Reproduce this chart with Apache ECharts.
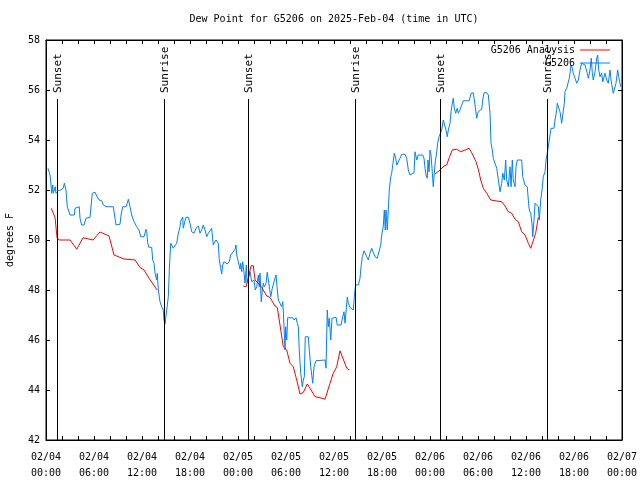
<!DOCTYPE html>
<html><head><meta charset="utf-8">
<script src="https://cdn.jsdelivr.net/npm/echarts@6/dist/echarts.min.js"></script>
<style>html,body{margin:0;padding:0;background:#fff}#c{width:640px;height:480px}</style>
</head><body><div id="c"></div>
<script>
// Hours since 2025-02-04 00:00 UTC
const obsTimes = [0.25,0.41,0.5,0.63,0.71,0.84,0.91,1.09,1.16,1.25,1.41,1.54,1.84,2.16,2.29,2.46,2.5,2.66,2.91,3.0,
3.54,3.63,3.84,4.16,4.25,4.46,4.75,5.0,5.5,5.71,5.79,6.13,6.34,6.63,6.96,7.16,7.5,8.41,8.63,8.75,
9.25,9.38,9.59,10.0,10.16,10.29,10.5,10.71,11.0,11.34,11.63,11.84,12.25,12.5,12.59,12.71,12.84,13.21,13.34,13.5,
13.63,13.84,13.91,14.04,14.25,14.46,14.66,14.75,14.88,15.09,15.29,15.44,15.59,15.84,15.91,16.13,16.34,16.54,16.75,16.88,
17.09,17.16,17.34,17.5,17.79,18.0,18.21,18.5,18.75,19.04,19.25,19.46,19.66,19.88,20.09,20.29,20.5,20.71,20.91,21.25,
21.54,21.66,21.84,21.96,22.09,22.25,22.66,22.91,23.09,23.34,23.63,23.75,23.84,24.04,24.25,24.34,24.46,24.59,24.75,24.88,
25.04,25.13,25.29,25.5,25.71,26.0,26.16,26.34,26.54,26.66,26.75,26.91,27.04,27.16,27.29,27.5,27.66,27.91,28.09,28.29,
28.5,28.75,28.88,29.04,29.25,29.46,29.59,29.66,29.88,29.96,30.09,30.21,30.84,31.0,31.25,31.41,31.54,31.66,31.84,32.04,
32.16,32.29,32.41,32.79,32.91,33.09,33.34,33.5,33.75,34.88,35.0,35.16,35.29,35.41,35.59,35.75,36.25,36.41,36.88,37.09,
37.25,37.38,37.59,37.66,37.79,38.0,38.41,38.59,38.71,39.04,39.25,39.38,39.54,39.75,39.88,40.09,40.29,40.5,40.71,40.91,
41.13,41.41,41.66,41.84,42.0,42.16,42.29,42.41,42.5,42.66,42.79,42.91,43.09,43.21,43.41,43.54,43.71,43.84,44.04,44.25,
44.46,44.88,45.09,45.29,45.5,45.71,46.0,46.13,46.34,46.54,46.75,47.09,47.25,47.38,47.5,47.66,47.75,47.88,48.0,48.13,
48.25,48.41,48.54,48.66,48.84,48.96,49.13,49.25,49.46,49.66,49.88,50.0,50.16,50.29,50.5,50.63,50.79,50.91,51.04,51.21,
51.41,51.54,51.75,51.96,52.16,52.91,53.13,53.41,53.63,53.84,53.96,54.16,54.46,54.59,54.75,55.09,55.29,55.5,55.63,55.79,
55.91,56.13,56.34,56.54,56.75,56.96,57.09,57.29,57.46,57.59,57.79,58.0,58.13,58.29,58.41,58.63,58.75,58.91,59.46,59.59,
59.88,60.16,60.29,60.41,60.59,60.75,60.84,61.0,61.13,61.34,61.54,61.66,61.84,62.0,62.16,62.38,62.5,62.66,62.79,62.91,
63.0,63.13,63.5,63.63,63.84,63.91,64.09,64.25,64.46,64.66,64.79,64.88,65.09,65.29,65.41,65.5,65.63,65.79,65.91,66.13,
66.34,66.54,66.75,66.96,67.38,67.66,67.79,68.0,68.16,68.29,68.41,68.63,68.84,68.96,69.09,69.25,69.46,69.59,69.88,70.09,
70.29,70.5,70.66,70.91,71.13,71.25,71.46,71.59,71.75,71.84];
const obsDew = [52.87,52.8,52.6,52.2,51.87,52.2,51.87,51.93,52.13,51.87,51.87,51.97,52.0,52.07,52.27,52.31,52.0,51.33,51.33,51.0,
51.0,51.27,51.33,51.33,50.87,50.6,50.6,50.87,50.91,50.91,51.87,51.91,51.76,51.6,51.57,51.4,51.33,51.33,50.87,50.6,
50.63,51.0,51.33,51.33,51.47,51.63,51.33,51.0,50.73,50.53,50.4,50.13,50.13,50.43,50.33,49.89,49.71,49.71,49.2,49.07,
48.67,48.4,48.67,48.0,47.53,47.33,47.2,46.8,46.64,46.64,47.73,49.0,49.87,49.87,49.67,49.7,49.87,50.27,50.53,50.8,
50.91,50.47,50.73,50.91,50.91,50.67,50.33,50.27,50.47,50.56,50.27,50.4,50.6,50.4,50.13,50.27,50.33,50.47,49.8,50.0,
49.87,49.2,48.87,48.64,49.0,49.13,49.04,49.13,49.4,49.47,49.63,49.8,49.4,49.13,48.83,49.07,48.73,49.13,48.67,48.27,
49.0,48.3,48.33,48.73,48.33,48.4,48.0,48.13,48.6,48.13,48.67,47.53,48.0,48.27,48.13,48.27,48.71,48.71,47.73,48.07,
48.33,48.6,48.13,47.6,47.47,47.33,47.53,47.2,45.6,46.53,46.0,46.89,46.89,46.8,46.89,46.67,46.53,45.6,44.67,44.13,
44.4,44.53,46.13,46.13,45.6,44.93,44.27,44.93,45.17,45.2,44.87,47.2,46.53,46.87,46.0,46.87,46.91,46.6,46.6,46.93,
47.13,46.67,46.73,47.71,47.47,47.3,47.2,47.93,48.2,48.2,48.47,48.93,49.33,49.57,49.53,49.33,49.2,49.47,49.67,49.6,
49.33,49.27,49.27,49.8,50.27,50.56,51.2,50.4,51.2,50.4,51.2,52.0,52.53,52.67,52.73,53.47,53.27,53.0,53.0,53.27,
53.43,53.43,53.27,52.8,52.6,52.67,52.69,53.53,53.2,53.4,53.47,53.4,53.27,52.87,52.6,52.47,53.2,52.73,53.6,53.4,
52.87,52.13,52.67,53.13,53.53,53.87,54.13,54.2,54.4,54.8,54.77,54.4,54.13,54.4,54.67,55.13,55.47,55.67,55.27,55.07,
55.27,55.07,55.2,55.4,55.57,55.57,55.87,55.89,55.4,54.87,55.07,55.17,55.23,55.6,55.89,55.89,55.8,55.07,53.87,53.6,
53.27,53.33,52.87,52.8,51.93,52.27,52.67,52.4,53.2,52.4,52.13,52.93,52.13,53.2,52.4,52.13,52.93,53.2,53.2,52.53,
52.2,52.13,51.6,51.2,51.07,50.67,50.13,50.8,51.47,51.47,51.33,50.8,51.6,52.0,52.53,52.73,53.2,53.47,53.73,54.0,
54.2,54.47,54.47,54.8,55.2,55.47,55.47,55.13,54.67,54.73,55.47,55.93,56.07,56.07,56.47,56.67,57.0,56.87,56.67,56.47,
56.27,56.4,56.8,57.07,57.0,56.67,56.47,56.8,57.27,56.67,56.4,56.73,57.27,57.4,56.8,56.53,56.67,56.33,56.67,56.4,
56.27,56.8,56.33,55.87,55.87,56.27,56.8,56.53,56.27,56.13];

// Analysis, null separates gaps
const anaTimes = [0.66,0.91,1.13,1.38,1.63,3.0,3.84,4.63,5.88,6.75,7.88,8.5,9.75,11.13,11.75,12.25,12.88,13.88,
null,
24.66,25.0,25.29,25.63,25.91,26.13,26.54,26.96,27.16,27.59,28.0,28.63,28.91,29.25,29.66,30.09,30.5,30.91,31.34,31.75,
32.16,32.66,33.0,33.63,34.25,34.88,35.5,35.91,36.34,36.75,36.96,37.59,37.91,
null,
48.63,49.25,49.75,50.09,50.41,50.79,51.34,51.84,52.38,52.88,53.21,53.75,54.04,54.34,54.66,55.09,55.59,56.13,56.96,57.38,
57.79,58.21,58.63,59.04,59.46,59.88,60.29,60.59,60.84,61.21,61.54];
const anaDew = [51.27,51.3,50.9,50.1,50.0,50.0,49.63,50.09,50.0,50.32,50.16,49.4,49.24,49.2,48.9,48.8,48.47,48.0,
null,
48.16,48.13,48.47,48.97,48.97,48.4,48.27,48.1,48.0,47.76,47.7,47.36,47.3,46.6,45.73,45.6,45.07,44.93,44.4,43.84,
43.9,44.24,44.07,43.73,43.69,43.63,44.27,44.67,44.93,45.57,45.53,44.87,44.8,
null,
52.64,52.8,52.96,53.0,53.3,53.6,53.63,53.53,53.6,53.67,53.49,53.13,52.83,52.4,52.07,51.87,51.6,51.57,51.53,51.36,
51.13,51.07,50.83,50.73,50.33,50.2,49.87,49.67,49.67,50.27,50.91];

const sunTimes = [1.41, 14.79, 25.29, 38.66, 49.29, 62.66];
const sunLabels = ['Sunset','Sunrise','Sunset','Sunrise','Sunset','Sunrise'];

const xMin = 0, xMax = 72, xStep = 6;
const yMin = 42, yMax = 58, yStep = 2;
const FONT = '"DejaVu Sans Mono", "Liberation Mono", monospace';

const obsData = obsTimes.map((t, i) => [t, obsDew[i]]);
const anaSegments = [];
let cur = [];
anaTimes.forEach((t, i) => {
  if (t === null) { if (cur.length) anaSegments.push(cur); cur = []; }
  else cur.push([t, anaDew[i]]);
});
if (cur.length) anaSegments.push(cur);

function fmtX(v) {
  const day = 4 + Math.floor(v / 24);
  const hr = Math.round(v % 24);
  return '02/0' + day + '\n' + (hr < 10 ? '0' : '') + hr + ':00';
}

const axisCommon = {
  type: 'value',
  axisLine: { show: true, onZero: false, lineStyle: { color: '#000', width: 1 } },
  axisTick: { show: true, inside: true, length: 4, lineStyle: { color: '#000' } },
  splitLine: { show: false },
  minorSplitLine: { show: false }
};

const chart = echarts.init(document.getElementById('c'), null, { renderer: 'canvas' });
const series = [
  {
    name: 'G5206', type: 'line', data: obsData, showSymbol: false, symbol: 'none',
    lineStyle: { color: '#0080ff', width: 1 }, itemStyle: { color: '#0080ff' },
    z: 3, emphasis: { disabled: true }, silent: true
  }
];
anaSegments.forEach(seg => series.push({
  name: 'G5206 Analysis', type: 'line', data: seg, showSymbol: false, symbol: 'none',
  lineStyle: { color: '#ff0000', width: 1 }, itemStyle: { color: '#ff0000' },
  z: 4, emphasis: { disabled: true }, silent: true
}));
series.push({
  name: 'sun', type: 'custom', data: sunTimes.map(t => [t, yMin]), z: 5, silent: true,
  encode: { x: 0, y: 1 },
  renderItem: function (params, api) {
    const t = api.value(0);
    const b = api.coord([t, yMin]);
    const top = api.coord([t, yMax]);
    const x = Math.round(b[0]) + 0.5;
    return {
      type: 'group',
      children: [
        { type: 'line', shape: { x1: x, y1: b[1], x2: x, y2: top[1] + 59 },
          style: { stroke: '#000', lineWidth: 1 } },
        { type: 'text', x: x + 1, y: top[1] + 53, rotation: Math.PI / 2,
          style: { text: sunLabels[params.dataIndex], font: '11px ' + FONT, fill: '#000',
                   align: 'left', verticalAlign: 'middle' } }
      ]
    };
  }
});

chart.setOption({
  animation: false,
  backgroundColor: '#fff',
  title: {
    text: 'Dew Point for G5206 on 2025-Feb-04 (time in UTC)',
    left: 334, top: 14, padding: 0, textAlign: 'center',
    textStyle: { fontFamily: FONT, fontSize: 10, fontWeight: 'normal', color: '#000' }
  },
  grid: { left: 46, right: 18, top: 40, bottom: 40, show: true, borderColor: '#000', borderWidth: 1,
          backgroundColor: '#fff', containLabel: false, outerBoundsMode: 'none' },
  legend: {
    data: ['G5206 Analysis', 'G5206'],
    orient: 'vertical', right: 30, top: 44, padding: 0, align: 'right',
    icon: 'rect', itemWidth: 30, itemHeight: 1, itemGap: 1,
    textStyle: { fontFamily: FONT, fontSize: 10, color: '#000', lineHeight: 12 },
    selectedMode: false
  },
  xAxis: [
    Object.assign({}, axisCommon, {
      min: xMin, max: xMax, interval: xStep, position: 'bottom',
      minorTick: { show: true, splitNumber: 3, length: 4, lineStyle: { color: '#000' } },
      axisLabel: { formatter: fmtX, fontFamily: FONT, fontSize: 10, color: '#000', lineHeight: 16, margin: 9,
                   showMinLabel: true, showMaxLabel: true, hideOverlap: false }
    }),
    Object.assign({}, axisCommon, {
      min: xMin, max: xMax, interval: xStep, position: 'top',
      minorTick: { show: true, splitNumber: 3, length: 4, lineStyle: { color: '#000' } },
      axisLabel: { show: false }
    })
  ],
  yAxis: [
    Object.assign({}, axisCommon, {
      min: yMin, max: yMax, interval: yStep, position: 'left',
      name: 'degrees F', nameLocation: 'middle', nameGap: 31,
      nameTextStyle: { fontFamily: FONT, fontSize: 10, color: '#000' },
      axisLabel: { fontFamily: FONT, fontSize: 10, color: '#000', margin: 6 }
    }),
    Object.assign({}, axisCommon, {
      min: yMin, max: yMax, interval: yStep, position: 'right',
      axisLabel: { show: false }
    })
  ],
  series: series
});
</script></body></html>
